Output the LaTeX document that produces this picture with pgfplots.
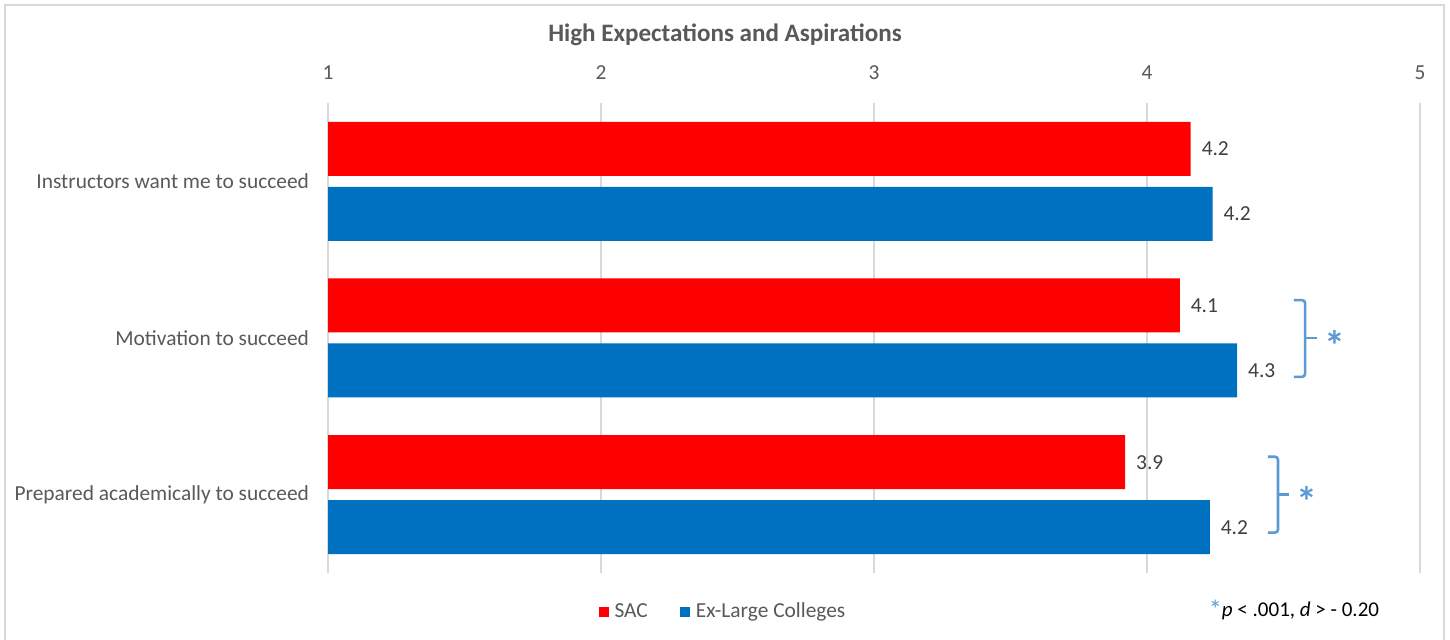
\documentclass[border=0pt]{standalone}
\usepackage{pgfplots}
\pgfplotsset{compat=1.18}
\usepackage{fontspec}
\setmainfont{Carlito}
\definecolor{sacred}{HTML}{FF0000}
\definecolor{exblue}{HTML}{0070C0}
\definecolor{txt}{HTML}{595959}
\definecolor{lbl}{HTML}{404040}
\definecolor{gridc}{HTML}{D9D9D9}
\definecolor{brk}{HTML}{5B9BD5}
\begin{document}
\begin{tikzpicture}
\useasboundingbox (0pt,0pt) rectangle (725pt,320pt);
\fill[white] (0pt,0pt) rectangle (725pt,320pt);
\draw[gridc, line width=0.75pt] (2.5pt,-5pt) -- (2.5pt,317.5pt) -- (722pt,317.5pt) -- (722pt,-5pt);
\node[font=\fontsize{12.55}{14}\selectfont\bfseries, text=txt] at (362.5pt,302.5pt) {High Expectations and Aspirations};
\begin{axis}[
  at={(164pt,33.5pt)}, anchor=south west,
  scale only axis, width=546pt, height=235pt,
  xmin=1, xmax=5, ymin=-0.5, ymax=2.5,
  xtick={1,2,3,4,5}, ytick={0,1,2},
  yticklabels={Prepared academically to succeed, Motivation to succeed, Instructors want me to succeed},
  xticklabel pos=upper,
  axis line style={draw=none},
  major tick length=0pt,
  xmajorgrids, major grid style={gridc, line width=0.75pt},
  ticklabel style={font=\fontsize{10.7}{12}\selectfont, text=txt},
  /pgf/number format/assume math mode=true,
  xticklabel style={yshift=8pt},
  yticklabel style={xshift=-6pt},
  xbar, bar width=27pt,
  nodes near coords={\pgfmathprintnumber[fixed,fixed zerofill,precision=1]{\pgfplotspointmeta}},
  every node near coord/.append style={font=\fontsize{10.7}{12}\selectfont, text=lbl, xshift=2pt},
  legend columns=2,
  legend image code/.code={\fill[#1,draw=none] (0pt,-2.5pt) rectangle (5pt,2.5pt);},
  legend style={at={(0.3626,-0.083)}, anchor=center, draw=none, fill=none,
    font=\fontsize{10.7}{12}\selectfont, text=txt,
    /tikz/every even column/.append style={column sep=14pt},
    /tikz/every odd column/.append style={column sep=1pt}},
]
\addplot[fill=sacred, draw=none, bar shift=16.25pt] coordinates {(3.92,0) (4.12,1) (4.16,2)};
\addplot[fill=exblue, draw=none, bar shift=-16.25pt] coordinates {(4.23,0) (4.33,1) (4.24,2)};
\legend{SAC, Ex-Large Colleges}
\draw[brk, line width=1.3pt, rounded corners=1.5pt] (axis cs:4.538,1.242) -- (axis cs:4.579,1.242) -- (axis cs:4.579,0.752) -- (axis cs:4.538,0.752);
\draw[brk, line width=1.3pt] (axis cs:4.579,1) -- (axis cs:4.623,1);
\node[text=brk, font=\fontsize{21}{21}\selectfont\bfseries] at (axis cs:4.689,0.955) {*};
\draw[brk, line width=1.3pt, rounded corners=1.5pt] (axis cs:4.443,0.242) -- (axis cs:4.480,0.242) -- (axis cs:4.480,-0.242) -- (axis cs:4.443,-0.242);
\draw[brk, line width=1.3pt] (axis cs:4.480,0) -- (axis cs:4.520,0);
\node[text=brk, font=\fontsize{21}{21}\selectfont\bfseries] at (axis cs:4.586,-0.045) {*};
\end{axis}
\node[font=\fontsize{10.5}{12}\selectfont, text=black] at (647pt,15pt) {\textcolor{brk}{\fontsize{13}{12}\selectfont\raisebox{-1pt}{*}}\textit{p} < .001, \textit{d} > - 0.20};
\end{tikzpicture}
\end{document}
